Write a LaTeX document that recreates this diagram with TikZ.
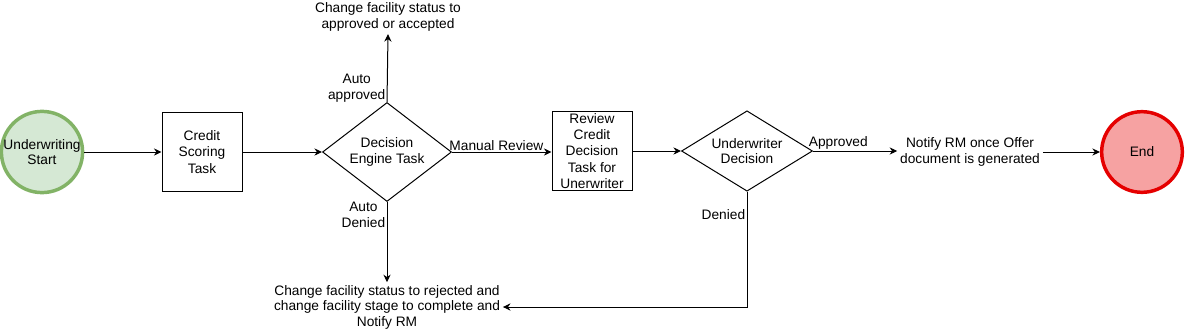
\documentclass[tikz,border=0pt]{standalone}
\usepackage{fontspec}
\setmainfont{Liberation Sans}
\usepackage{tikz}
\usetikzlibrary{
  positioning,
  arrows.meta,
  shapes.geometric
}
\definecolor{startfill}{HTML}{D5E8D4}
\definecolor{startline}{HTML}{82B366}
\definecolor{endfill}{HTML}{F6A2A2}
\definecolor{endline}{HTML}{E50000}
\tikzset{
  event/.style={
    circle, line width=2.6pt,
    minimum size=60.5pt, inner sep=0pt,
    font=\fontsize{10.3}{11.8}\selectfont,
    align=center
  },
  task/.style={
    draw, line width=0.75pt,
    minimum width=60pt,
    minimum height=59.5pt, inner sep=1pt,
    font=\fontsize{10.3}{12.3}\selectfont,
    align=center
  },
  choice/.style={
    draw, diamond, line width=0.75pt,
    aspect=1.3, inner sep=0pt,
    font=\fontsize{10.3}{11.8}\selectfont,
    align=center
  },
  note/.style={font=\fontsize{10.3}{11.6}\selectfont, align=center, inner sep=2pt},
  flow/.style={-{Stealth[length=2mm, width=1.9mm]}, line width=0.75pt, black},
  flowlabel/.style={font=\fontsize{10.3}{11.6}\selectfont, align=center, inner sep=1pt}
}

\begin{document}
\begin{tikzpicture}[
  x=0.75pt, y=-0.75pt
]
\useasboundingbox (0,0) rectangle (1185,332);

% start and first task
\node[event, draw=startline, fill=startfill] (start) at (42,152) {Underwriting\\Start};
\node[task] (scoring) at (202,152) {Credit\\Scoring\\Task};
\draw[flow] (start) -- (scoring);

% decision engine
\node[choice, minimum width=96.75pt, minimum height=74.25pt] (engine) at (387,152) {Decision\\Engine Task};
\draw[flow] (scoring) -- (engine);

\node[note] (approvedtxt) at (388,17) {Change facility status to\\approved or accepted};
\draw[flow] (engine.north) -- (approvedtxt.south)
  node[pos=0.2, left, flowlabel] {Auto\\approved};

\node[note] (rejectedtxt) at (387,307) {Change facility status to rejected and\\change facility stage to complete and\\Notify RM};
\draw[flow] (engine.south) -- (rejectedtxt.north)
  node[pos=0.16, left, flowlabel] {Auto\\Denied};

% manual review
\node[task] (review) at (592,151) {Review\\Credit\\Decision\\Task for\\Unerwriter};
\draw[flow] (engine.east) -- (review.west |- engine.east)
  node[midway, above, flowlabel, xshift=-4pt] {Manual Review};

% underwriter decision
\node[choice, minimum width=98.25pt, minimum height=60pt] (uwdecision) at (747,151) {Underwriter\\Decision};
\draw[flow] (review.east |- uwdecision.west) -- (uwdecision.west);
\draw[flow] (uwdecision.south) |- (rejectedtxt.east)
  node[pos=0.1, left, flowlabel] {Denied};

\node[note] (notifytxt) at (970,152) {Notify RM once Offer\\document is generated};
\draw[flow] (uwdecision.east) -- (notifytxt.west |- uwdecision.east)
  node[pos=0.3, above, flowlabel] {Approved};

% end event
\node[event, draw=endline, fill=endfill] (end) at (1142,152) {End};
\draw[flow] (notifytxt.east) -- (end);

\end{tikzpicture}
\end{document}
